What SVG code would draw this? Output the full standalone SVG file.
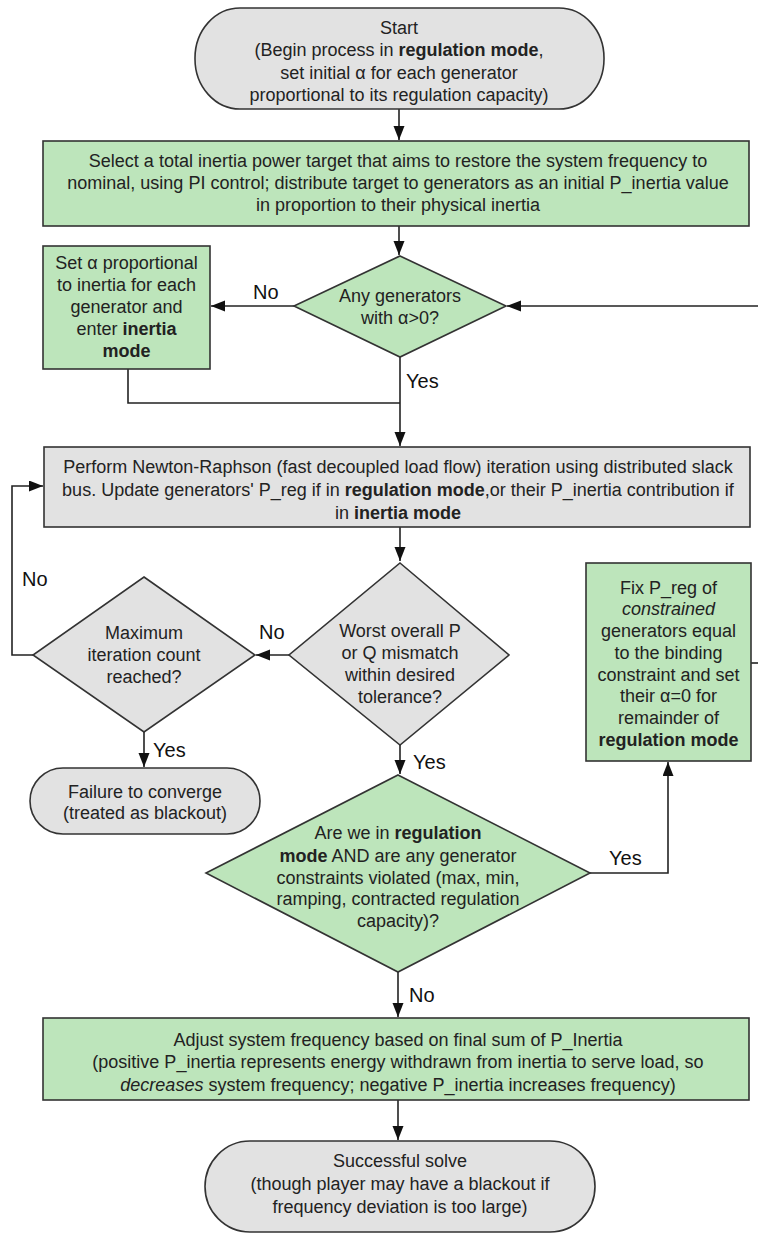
<svg xmlns="http://www.w3.org/2000/svg" width="758" height="1234" viewBox="0 0 758 1234">
<style>
.t{font-family:"Liberation Sans",Arial,sans-serif;font-size:18px;fill:#222;text-anchor:middle}
.l{font-family:"Liberation Sans",Arial,sans-serif;font-size:20px;fill:#111}
.g{fill:#bde5bb;stroke:#333;stroke-width:1.6}
.y{fill:#e2e2e2;stroke:#333;stroke-width:1.6}
.c{fill:none;stroke:#222;stroke-width:1.6}
.b{font-weight:bold}
.i{font-style:italic}
</style>
<defs>
<marker id="ah" markerUnits="userSpaceOnUse" markerWidth="15" markerHeight="12" refX="14" refY="5.5" orient="auto">
<path d="M0,0 L14,5.5 L0,11 z" fill="#111"/>
</marker>
</defs>

<g id="connectors">
<path class="c" d="M399,109 V140" marker-end="url(#ah)"/>
<path class="c" d="M399,226 V255" marker-end="url(#ah)"/>
<path class="c" d="M294,306 H211" marker-end="url(#ah)"/>
<path class="c" d="M758,306 H507" marker-end="url(#ah)"/>
<path class="c" d="M751,663 H758"/>
<path class="c" d="M400,357 V446" marker-end="url(#ah)"/>
<path class="c" d="M128,369 V403 H400"/>
<path class="c" d="M400,527 V561" marker-end="url(#ah)"/>
<path class="c" d="M289,655 H256" marker-end="url(#ah)"/>
<path class="c" d="M33,655 H12 V486 H43" marker-end="url(#ah)"/>
<path class="c" d="M144,732 V767" marker-end="url(#ah)"/>
<path class="c" d="M400,745 V774" marker-end="url(#ah)"/>
<path class="c" d="M590,873 H668 V762" marker-end="url(#ah)"/>
<path class="c" d="M398,972 V1017" marker-end="url(#ah)"/>
<path class="c" d="M398,1100 V1140" marker-end="url(#ah)"/>
<text class="l" x="253" y="299">No</text>
<text class="l" x="406" y="388">Yes</text>
<text class="l" x="22" y="586">No</text>
<text class="l" x="259" y="639">No</text>
<text class="l" x="153" y="757">Yes</text>
<text class="l" x="413" y="769">Yes</text>
<text class="l" x="609" y="865">Yes</text>
<text class="l" x="409" y="1002">No</text>
</g>

<g id="start">
<rect class="y" x="195" y="8" width="409" height="101" rx="45" ry="50"/>
<text class="t" x="399" y="34">Start</text>
<text class="t" x="399" y="56">(Begin process in <tspan class="b">regulation mode</tspan>,</text>
<text class="t" x="399" y="78.5">set initial α for each generator</text>
<text class="t" x="399" y="101">proportional to its regulation capacity)</text>
</g>

<g id="target">
<rect class="g" x="43" y="141" width="706" height="85"/>
<text class="t" x="398" y="167">Select a total inertia power target that aims to restore the system frequency to</text>
<text class="t" x="398" y="189">nominal, using PI control; distribute target to generators as an initial P_inertia value</text>
<text class="t" x="398" y="211">in proportion to their physical inertia</text>
</g>

<g id="anyalpha">
<polygon class="g" points="400,256 506,306 400,357 294,306"/>
<text class="t" x="400" y="302">Any generators</text>
<text class="t" x="400" y="324">with α&gt;0?</text>
</g>

<g id="inertiamode">
<rect class="g" x="43" y="246" width="167" height="123"/>
<text class="t" x="126.5" y="269">Set α proportional</text>
<text class="t" x="126.5" y="291">to inertia for each</text>
<text class="t" x="126.5" y="313">generator and</text>
<text class="t" x="126.5" y="335">enter <tspan class="b">inertia</tspan></text>
<text class="t" x="126.5" y="357"><tspan class="b">mode</tspan></text>
</g>

<g id="newton">
<rect class="y" x="44" y="447" width="706" height="80"/>
<text class="t" x="398" y="473">Perform Newton-Raphson (fast decoupled load flow) iteration using distributed slack</text>
<text class="t" x="398" y="496">bus. Update generators' P_reg if in <tspan class="b">regulation mode</tspan>,or their P_inertia contribution if</text>
<text class="t" x="398" y="519">in <tspan class="b">inertia mode</tspan></text>
</g>

<g id="mismatch">
<polygon class="y" points="400,563 509,655 400,745 289,655"/>
<text class="t" x="400" y="637">Worst overall P</text>
<text class="t" x="400" y="659">or Q mismatch</text>
<text class="t" x="400" y="681">within desired</text>
<text class="t" x="400" y="703">tolerance?</text>
</g>

<g id="maxiter">
<polygon class="y" points="144,577 255,655 144,732 33,655"/>
<text class="t" x="144" y="639">Maximum</text>
<text class="t" x="144" y="661">iteration count</text>
<text class="t" x="144" y="683">reached?</text>
</g>

<g id="failure">
<rect class="y" x="30" y="768" width="230" height="66" rx="33" ry="33"/>
<text class="t" x="145" y="798">Failure to converge</text>
<text class="t" x="145" y="819">(treated as blackout)</text>
</g>

<g id="fix">
<rect class="g" x="586" y="563" width="165" height="198"/>
<text class="t" x="668.5" y="594">Fix P_reg of</text>
<text class="t" x="668.5" y="615"><tspan class="i">constrained</tspan></text>
<text class="t" x="668.5" y="637">generators equal</text>
<text class="t" x="668.5" y="659">to the binding</text>
<text class="t" x="668.5" y="681">constraint and set</text>
<text class="t" x="668.5" y="702">their α=0 for</text>
<text class="t" x="668.5" y="724">remainder of</text>
<text class="t" x="668.5" y="746"><tspan class="b">regulation mode</tspan></text>
</g>

<g id="constraints">
<polygon class="g" points="398,775 590,873 398,972 206,873"/>
<text class="t" x="398" y="839">Are we in <tspan class="b">regulation</tspan></text>
<text class="t" x="398" y="862"><tspan class="b">mode</tspan> AND are any generator</text>
<text class="t" x="398" y="884">constraints violated (max, min,</text>
<text class="t" x="398" y="905">ramping, contracted regulation</text>
<text class="t" x="398" y="927">capacity)?</text>
</g>

<g id="adjust">
<rect class="g" x="43" y="1018" width="706" height="82"/>
<text class="t" x="398" y="1046">Adjust system frequency based on final sum of P_Inertia</text>
<text class="t" x="398" y="1068">(positive P_inertia represents energy withdrawn from inertia to serve load, so</text>
<text class="t" x="398" y="1091"><tspan class="i">decreases</tspan> system frequency; negative P_inertia increases frequency)</text>
</g>

<g id="success">
<rect class="y" x="205" y="1141" width="390" height="91" rx="45" ry="46"/>
<text class="t" x="400" y="1167">Successful solve</text>
<text class="t" x="400" y="1190">(though player may have a blackout if</text>
<text class="t" x="400" y="1213">frequency deviation is too large)</text>
</g>
</svg>
